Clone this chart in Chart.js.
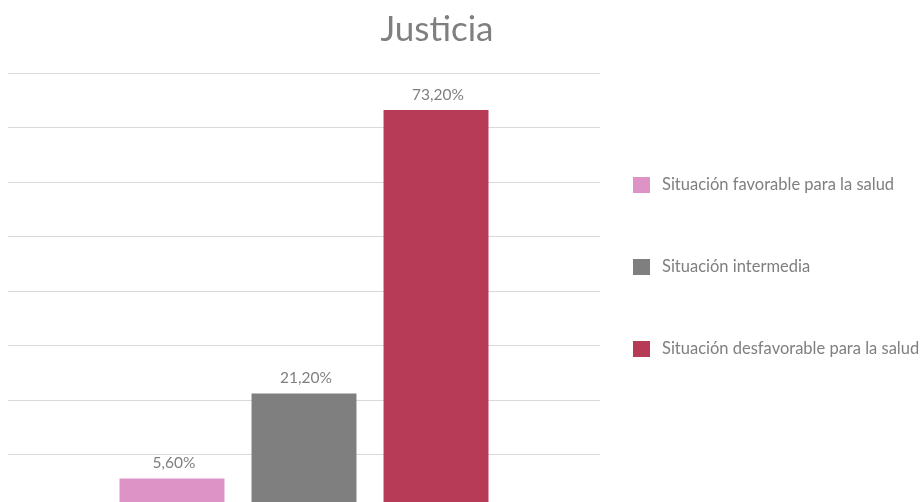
<!DOCTYPE html>
<html>
<head>
    <script src="https://cdn.jsdelivr.net/npm/chart.js"></script>
    <style>
        body { margin: 0; overflow: hidden; background: #fff; }
        #wrap { width: 923px; height: 520px; }
    </style>
</head>
<body>
    <div id="wrap"><canvas id="myChart"></canvas></div>
    <script>
        const title = 'Justicia'
        const categories = ['Justicia']
        const seriesNames = ['Situación favorable para la salud', 'Situación intermedia', 'Situación desfavorable para la salud']
        const seriesValues = [5.6, 21.2, 73.2]
        const seriesColors = ['#de93c7', '#7f7f7f', '#b73b57']
        const yTicks = [0, 10, 20, 30, 40, 50, 60, 70, 80]

        const fontFamily = 'Lato'
        const textColor = '#7f7f7f'

        const fmt = v => v.toFixed(2).replace('.', ',') + '%'

        // titulo, etiquetas de valor y leyenda dibujados a mano
        const extras = {
            id: 'extras',
            afterDatasetsDraw(chart) {
                const ctx = chart.ctx
                ctx.save()
                ctx.fillStyle = textColor
                ctx.textAlign = 'center'
                ctx.textBaseline = 'alphabetic'
                ctx.font = '15.5px ' + fontFamily
                chart.data.datasets.forEach((ds, i) => {
                    chart.getDatasetMeta(i).data.forEach((bar, j) => {
                        ctx.fillText(fmt(ds.data[j]), bar.x + 2, bar.y - 10)
                    })
                })

                ctx.font = '35px ' + fontFamily
                ctx.textBaseline = 'middle'
                ctx.fillText(title, 437, 30)

                ctx.textAlign = 'left'
                ctx.font = '16.5px ' + fontFamily
                chart.data.datasets.forEach((ds, i) => {
                    const y = 185 + i * 82
                    ctx.fillStyle = ds.backgroundColor
                    ctx.fillRect(633, y - 8, 17, 16)
                    ctx.fillStyle = textColor
                    ctx.fillText(ds.label, 662, y)
                })
                ctx.restore()
            }
        }

        const ctx = document.getElementById('myChart')
        const myChart = new Chart(ctx, {
            type: 'bar',
            data: {
                labels: categories,
                datasets: seriesNames.map((name, i) => ({
                    label: name,
                    data: [seriesValues[i]],
                    backgroundColor: seriesColors[i],
                    categoryPercentage: 0.669,
                    barPercentage: 0.795
                }))
            },
            options: {
                responsive: true,
                maintainAspectRatio: false,
                animation: false,
                layout: { padding: { top: 73, left: 8, right: 323, bottom: 11 } },
                plugins: {
                    legend: { display: false },
                    title: { display: false },
                    tooltip: { enabled: false }
                },
                scales: {
                    x: { display: false },
                    y: {
                        min: 0,
                        max: 80,
                        afterBuildTicks: axis => { axis.ticks = yTicks.map(v => ({ value: v })) },
                        ticks: { display: false },
                        border: { display: false },
                        grid: { color: '#d9d9d9', lineWidth: 1, drawTicks: false }
                    }
                }
            },
            plugins: [extras]
        })
    </script>
</body>
</html>
